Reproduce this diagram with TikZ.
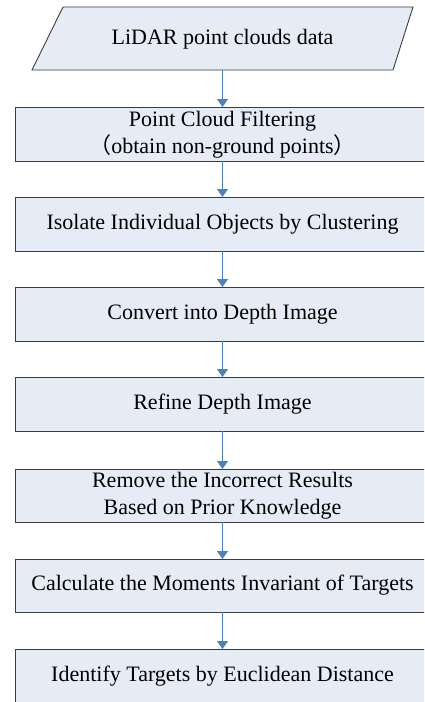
\documentclass[tikz,border=0pt]{standalone}
\usepackage{fontspec}
\setmainfont{Liberation Serif}
\newfontfamily\cjk{Noto Sans CJK SC}
\usetikzlibrary{arrows.meta}
\definecolor{boxfill}{RGB}{230,236,246}
\definecolor{boxline}{RGB}{60,60,60}
\definecolor{flow}{RGB}{79,129,189}
\tikzset{
  stepbox/.style={draw=boxline, line width=0.9pt, fill=boxfill},
  flowarrow/.style={draw=flow, line width=1.3pt, -{Triangle[width=11pt,length=8pt]}},
  lbl/.style={font=\fontsize{22}{27}\selectfont, align=center, inner sep=0pt},
}
\begin{document}
\begin{tikzpicture}[x=1pt,y=-1pt]
\useasboundingbox (0,0) rectangle (424,702);
\clip (0,0) rectangle (424,702);
% input parallelogram
\path[stepbox] (63,7) -- (413,7) -- (393,70) -- (32,70) -- cycle;
\node[lbl] (in) at (222.5,39) {LiDAR point clouds data};
\coordinate (inb) at (222.5,70);
% process boxes (their right sides run past the page edge)
\path[stepbox] (15,107) rectangle (450,161);
\node[lbl] (s1) at (222.5,135) {Point Cloud Filtering\\{\cjk （}obtain non-ground points{\cjk ）}};
\path[stepbox] (15,197) rectangle (450,251);
\node[lbl] (s2) at (222.5,224) {Isolate Individual Objects by Clustering};
\path[stepbox] (15,287) rectangle (450,341);
\node[lbl] (s3) at (222.5,314) {Convert into Depth Image};
\path[stepbox] (15,377) rectangle (450,431);
\node[lbl] (s4) at (222.5,404) {Refine Depth Image};
\path[stepbox] (15,469) rectangle (450,522);
\node[lbl] (s5) at (222.5,496) {Remove the Incorrect Results\\Based on Prior Knowledge};
\path[stepbox] (15,559) rectangle (450,612);
\node[lbl] (s6) at (222.5,585.5) {Calculate the Moments Invariant of Targets};
\path[stepbox] (15,649) rectangle (450,720);
\node[lbl] (s7) at (222.5,676) {Identify Targets by Euclidean Distance};
% edge anchors of the boxes
\coordinate (t1) at (222.5,107); \coordinate (b1) at (222.5,161);
\coordinate (t2) at (222.5,197); \coordinate (b2) at (222.5,251);
\coordinate (t3) at (222.5,287); \coordinate (b3) at (222.5,341);
\coordinate (t4) at (222.5,377); \coordinate (b4) at (222.5,431);
\coordinate (t5) at (222.5,469); \coordinate (b5) at (222.5,522);
\coordinate (t6) at (222.5,559); \coordinate (b6) at (222.5,612);
\coordinate (t7) at (222.5,649);
% connectors
\draw[flowarrow] (inb) -- (t1);
\draw[flowarrow] (b1) -- (t2);
\draw[flowarrow] (b2) -- (t3);
\draw[flowarrow] (b3) -- (t4);
\draw[flowarrow] (b4) -- (t5);
\draw[flowarrow] (b5) -- (t6);
\draw[flowarrow] (b6) -- (t7);
\end{tikzpicture}
\end{document}
